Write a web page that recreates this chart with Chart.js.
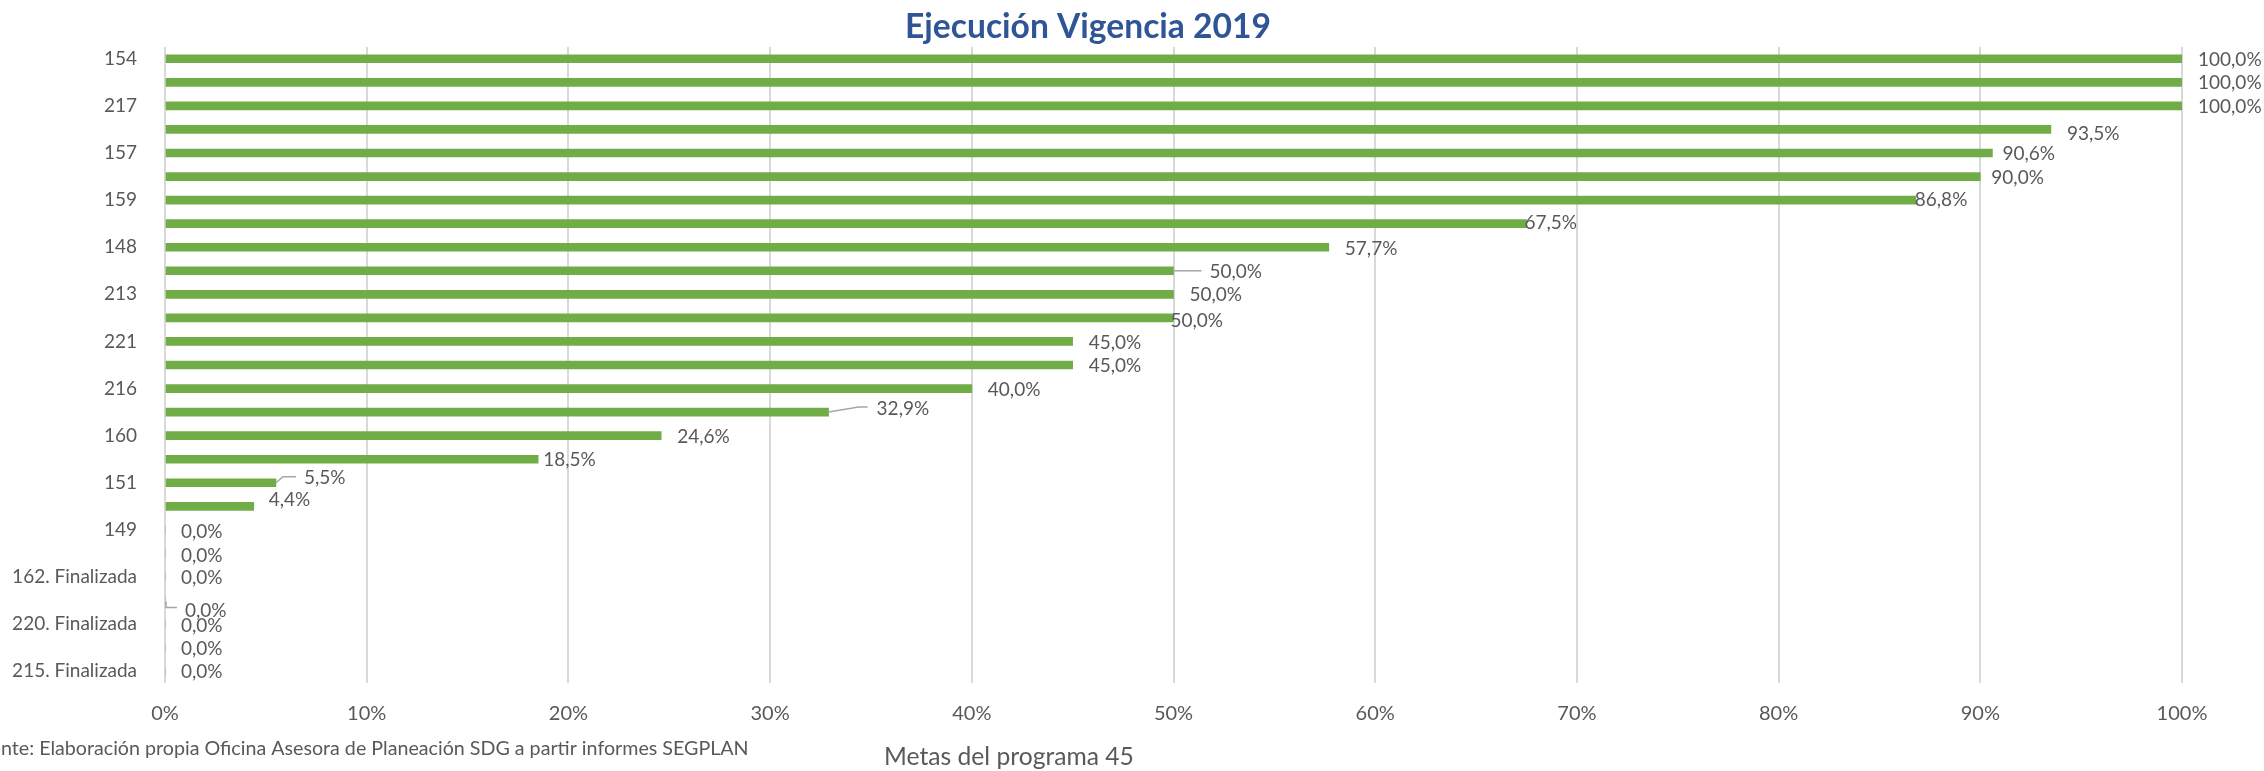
<!DOCTYPE html>
<html><head><meta charset="utf-8">
<script src="https://cdn.jsdelivr.net/npm/chart.js@4.4.0/dist/chart.umd.min.js"></script>
<style>html,body{margin:0;padding:0;background:#fff;overflow:hidden}#wrap{width:2264px;height:771px;position:relative}canvas{display:block}</style>
</head><body><div id="wrap"><canvas id="c" width="2264" height="771"></canvas></div>
<script>
// ---- data ----
const categories = ["154","","217","","157","","159","","148","","213","","221","","216","","160","","151","","149","","162. Finalizada","","220. Finalizada","","215. Finalizada"];
const ejecucion = [100,100,100,93.5,90.6,90.0,86.8,67.5,57.7,50.0,50.0,50.0,45.0,45.0,40.0,32.9,24.6,18.5,5.5,4.4,0,0,0,0,0,0,0];
const xTickValues = [0,10,20,30,40,50,60,70,80,90,100];
const chartTitle = "Ejecución Vigencia 2019";
const axisTitle = "Metas del programa 45";
const sourceNote = "Fuente: Elaboración propia Oficina Asesora de Planeación SDG a partir informes SEGPLAN";

// ---- style ----
const FONT = "Lato, 'Open Sans', sans-serif";
const GRAY = '#595959';
const GREEN = '#70AD47';
const labelDefault = {gap:16, dy:1, leader:null};
const labelOverrides = {
  3:{dy:4}, 4:{gap:10}, 5:{gap:11}, 6:{gap:-1, dy:0}, 7:{gap:-2, dy:-1}, 8:{dy:2},
  9:{gap:36, leader:[[0,0],[28,0]]}, 11:{gap:-3, dy:3},
  15:{gap:48, dy:-3, leader:[[0,0],[30,-5],[39,-5]]}, 17:{gap:5},
  18:{gap:28, dy:-5, leader:[[0,0],[7,-6],[20,-6]]}, 19:{gap:15, dy:-6},
  20:{dy:2}, 21:{dy:2}, 23:{gap:20, dy:10, leader:[[1,1],[1,7],[12,7]]}, 24:{dy:2}
};
const fmt = v => v.toFixed(1).replace('.', ',') + '%';

const ctx0 = document.getElementById('c').getContext('2d');
function fitSize(text, target, weight, base){
  ctx0.font = weight + ' ' + base + 'px ' + FONT;
  return base * target / ctx0.measureText(text).width;
}

const extras = {
  id:'extras',
  afterDatasetsDraw(chart){
    const ctx = chart.ctx;
    const meta = chart.getDatasetMeta(0);
    ctx.save();
    ctx.font = '19px ' + FONT;
    ctx.fillStyle = GRAY;
    ctx.textBaseline = 'middle';
    ctx.textAlign = 'left';
    meta.data.forEach((bar, i) => {
      const o = Object.assign({}, labelDefault, labelOverrides[i] || {});
      const x0 = bar.x, y0 = bar.y;
      if (o.leader){
        ctx.save();
        ctx.strokeStyle = '#A6A6A6'; ctx.lineWidth = 1.5;
        ctx.beginPath();
        o.leader.forEach((p, k) => { const px = x0 + p[0], py = y0 + p[1]; k ? ctx.lineTo(px, py) : ctx.moveTo(px, py); });
        ctx.stroke();
        ctx.restore();
      }
      ctx.fillText(fmt(ejecucion[i]), x0 + o.gap, y0 + o.dy);
    });
    ctx.restore();
  },
  afterDraw(chart){
    const ctx = chart.ctx;
    ctx.save();
    ctx.textBaseline = 'middle';
    // title
    let s = fitSize(chartTitle, 366, 'bold', 30);
    ctx.font = 'bold ' + s + 'px ' + FONT;
    ctx.fillStyle = '#2F5597';
    ctx.textAlign = 'center';
    ctx.fillText(chartTitle, 1088, 27);
    // axis title
    s = fitSize(axisTitle, 250, 'normal', 22);
    ctx.font = s + 'px ' + FONT;
    ctx.fillStyle = GRAY;
    ctx.fillText(axisTitle, 1009, 757);
    // source note (left part cut by canvas edge)
    const hidden = 'Fue';
    const visible = sourceNote.slice(hidden.length);
    s = fitSize(visible, 748, 'normal', 16);
    ctx.font = s + 'px ' + FONT;
    ctx.textAlign = 'left';
    const w = ctx.measureText(hidden).width;
    ctx.fillText(sourceNote, 1 - w, 749);
    ctx.restore();
  }
};

new Chart(document.getElementById('c'), {
  type:'bar',
  data:{ labels: categories, datasets:[{ data: ejecucion, backgroundColor: GREEN, borderWidth:0, barThickness:8 }] },
  options:{
    indexAxis:'y', responsive:false, animation:false, devicePixelRatio:1,
    layout:{ padding:{ top:47, right:82, left:0, bottom:0 } },
    plugins:{ legend:{display:false}, tooltip:{enabled:false}, title:{display:false} },
    scales:{
      x:{
        min:0, max:100,
        afterBuildTicks(scale){ scale.ticks = xTickValues.map(v => ({value:v})); },
        afterFit(scale){ scale.height = 88; },
        grid:{ color:'#D9D9D9', lineWidth:2, drawTicks:false },
        border:{ display:false },
        ticks:{ callback: v => v + '%', color:GRAY, font:{family:FONT, size:20}, padding:19, maxRotation:0 }
      },
      y:{
        afterFit(scale){ scale.width = 165; },
        grid:{ display:false }, border:{ display:false },
        ticks:{ autoSkip:false, color:GRAY, font:{family:FONT, size:19}, padding:20 }
      }
    }
  },
  plugins:[extras]
});
</script></body></html>
